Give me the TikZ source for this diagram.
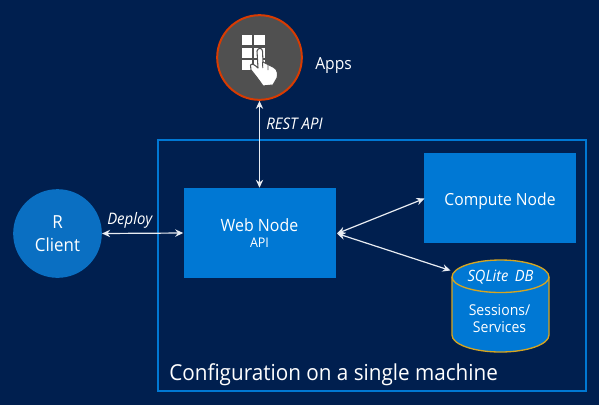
\documentclass[tikz,border=0pt]{standalone}
\usepackage{fontspec}
\setmainfont[FakeStretch=0.94]{Open Sans}
\usetikzlibrary{arrows.meta}
\definecolor{bgc}{HTML}{001F4F}
\definecolor{boxc}{HTML}{0078D4}
\definecolor{circc}{HTML}{0A6FC2}
\definecolor{goldc}{HTML}{D6A520}
\definecolor{redc}{HTML}{D83B01}
\definecolor{grayc}{HTML}{505050}
\definecolor{linec}{HTML}{E8ECF2}
\tikzset{
  x=0.75pt,y=-0.75pt,
  box/.style={fill=boxc,minimum width=114pt,inner sep=0pt,text=white,align=center},
  lab/.style={text=white,font=\fontsize{12.5pt}{14pt}\selectfont},
  conn/.style={linec,line width=0.9pt,{Stealth[length=6pt,width=5.5pt]}-{Stealth[length=6pt,width=5.5pt]}},
}
\begin{document}
\begin{tikzpicture}
\useasboundingbox (0,0) rectangle (599,405);
\fill[bgc] (0,0) rectangle (599,405);
\draw[boxc,line width=1.5pt] (157.5,139.5) rectangle (586,391);
\node[anchor=west,text=white,inner sep=0pt,font=\fontsize{16.5pt}{20pt}\selectfont] (title) at (169,375) {Configuration on a single machine};
% R client
\node[circle,fill=circc,minimum size=66.5pt,inner sep=0pt,text=white,align=center,font=\fontsize{13.5pt}{18pt}\selectfont] (r) at (57.5,233.5) {\raisebox{-1pt}{R}\\Client};
% Web node
\node[box,minimum height=67.5pt] (web) at (259.5,233) {\raisebox{-0.8pt}{\fontsize{12.7pt}{15pt}\selectfont Web Node}\\[0pt]\raisebox{-0.8pt}{\fontsize{10pt}{11pt}\selectfont API}};
% Compute
\node[box,minimum height=68pt,text depth=0pt] (compute) at (500,198) {\raisebox{-1.2pt}{\fontsize{12.5pt}{15pt}\selectfont Compute Node}};
% Apps
\node[circle,fill=grayc,draw=redc,line width=1.5pt,minimum size=63.5pt,inner sep=0pt] (apps) at (259.5,57.5) {};
\foreach \cx in {241.5,254.2}{\foreach \cy in {35,47.5,60}{
  \fill[white] (\cx,\cy) rectangle ++(10.8,10.3);}}
\filldraw[white,draw=grayc,line width=0.8pt,line join=round]
  (257,51) .. controls (258,47.5) and (262,47.5) .. (262.5,51)
  -- (263,62) -- (274,67.5) .. controls (278,70) and (278,75) .. (277,78)
  -- (273,85) -- (263,86) .. controls (259,80) and (255,75) .. (251,70)
  -- (250.5,65) .. controls (252,63) and (255,65) .. (258,68) -- cycle;
\draw[grayc,line width=0.7pt] (262.5,62) -- (262.8,68) (268,64.5) -- (268,70);
\node[lab,anchor=west,inner sep=0pt] (appslab) at (315,66) {Apps};
% DB
\fill[boxc,draw=goldc,line width=1pt] (452,277) -- (452,335) arc[x radius=48.5,y radius=17,start angle=180,end angle=0] -- (549,277) arc[x radius=48.5,y radius=17,start angle=0,end angle=-180] -- cycle;
\draw[goldc,line width=1pt] (452,277) arc[x radius=48.5,y radius=15.5,start angle=180,end angle=0];
\node[text=white,inner sep=0pt,font=\fontsize{11.7pt}{14pt}\selectfont\itshape] (dbtop) at (500.5,277.5) {SQLite\, DB};
\node[text=white,inner sep=0pt,align=center,font=\fontsize{11.2pt}{12.75pt}\selectfont] (dbbody) at (499.5,318.5) {Sessions/\\Services};
\coordinate (dbin) at (450.5,270.5);
\coordinate (hub) at (337,233.5);
\coordinate (compin) at (424.5,198.5);
% connectors
\draw[conn] (apps.south) -- (web.north);
\draw[conn] (r.east) -- (web.west);
\draw[conn] (hub) -- (compin);
\draw[conn] (hub) -- (dbin);
\node[lab,anchor=west,inner sep=0pt,font=\fontsize{12pt}{14pt}\selectfont\itshape] (rest) at (266,123.5) {REST API};
\node[lab,anchor=west,inner sep=0pt,font=\fontsize{11.9pt}{14pt}\selectfont\itshape] (deploy) at (107,220) {Deploy};
\end{tikzpicture}
\end{document}
